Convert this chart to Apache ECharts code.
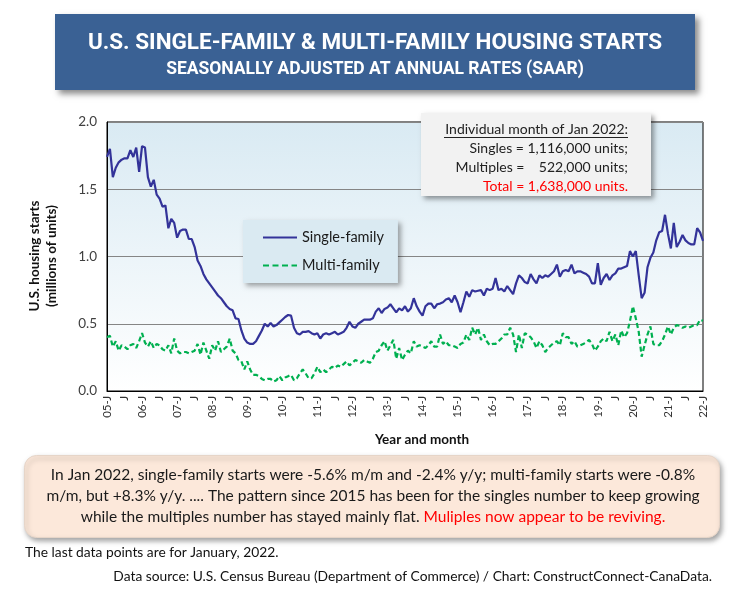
<!DOCTYPE html>
<html>
<head>
<meta charset="utf-8">
<script src="https://cdn.jsdelivr.net/npm/echarts@6/dist/echarts.min.js"></script>
<style>
html,body{margin:0;padding:0;background:#fff;}
#chart{width:742px;height:598px;}
</style>
</head>
<body>
<div id="chart"></div>
<script>
// ---------- DATA ----------
var startYear = 2005;
var monthLetters = ['J','F','M','A','M','J','J','A','S','O','N','D'];

// Single-family starts, SAAR, millions (Jan 2005 .. Jan 2022)
var singleFamily = [
  1.74, 1.80, 1.59, 1.66, 1.70, 1.72, 1.73, 1.73, 1.79, 1.74, 1.81, 1.63,
  1.82, 1.81, 1.59, 1.52, 1.57, 1.46, 1.43, 1.37, 1.38, 1.21, 1.28, 1.25,
  1.14, 1.19, 1.20, 1.20, 1.13, 1.13, 1.07, 0.97, 0.93, 0.87, 0.83, 0.80,
  0.77, 0.74, 0.71, 0.69, 0.66, 0.63, 0.61, 0.60, 0.54, 0.535, 0.45, 0.39,
  0.36, 0.35, 0.35, 0.37, 0.41, 0.45, 0.50, 0.48, 0.505, 0.48, 0.49, 0.51,
  0.53, 0.55, 0.565, 0.56, 0.47, 0.43, 0.42, 0.44, 0.44, 0.445, 0.43, 0.42,
  0.43, 0.39, 0.42, 0.43, 0.42, 0.43, 0.44, 0.42, 0.43, 0.44, 0.47, 0.515,
  0.48, 0.47, 0.50, 0.515, 0.53, 0.53, 0.53, 0.54, 0.59, 0.615, 0.58, 0.61,
  0.62, 0.645, 0.615, 0.585, 0.615, 0.60, 0.63, 0.59, 0.615, 0.69, 0.63, 0.59,
  0.56, 0.63, 0.65, 0.65, 0.615, 0.645, 0.65, 0.66, 0.68, 0.69, 0.66, 0.71,
  0.66, 0.585, 0.66, 0.74, 0.70, 0.75, 0.74, 0.745, 0.75, 0.71, 0.76, 0.75,
  0.76, 0.84, 0.75, 0.76, 0.74, 0.78, 0.75, 0.72, 0.80, 0.86, 0.84, 0.81,
  0.80, 0.87, 0.83, 0.80, 0.86, 0.84, 0.86, 0.85, 0.87, 0.89, 0.94, 0.85,
  0.89, 0.90, 0.89, 0.94, 0.875, 0.89, 0.89, 0.88, 0.87, 0.85, 0.80, 0.80,
  0.95, 0.79, 0.84, 0.87, 0.825, 0.86, 0.875, 0.91, 0.91, 0.92, 0.93, 1.04,
  1.00, 1.04, 0.86, 0.69, 0.73, 0.92, 0.99, 1.03, 1.12, 1.18, 1.19, 1.31,
  1.17, 1.06, 1.25, 1.07, 1.11, 1.16, 1.12, 1.10, 1.09, 1.09, 1.21, 1.18,
  1.116
];

// Multi-family starts, SAAR, millions (Jan 2005 .. Jan 2022)
var multiFamily = [
  0.40, 0.41, 0.33, 0.37, 0.30, 0.34, 0.33, 0.31, 0.34, 0.35, 0.32, 0.37,
  0.43, 0.36, 0.33, 0.37, 0.32, 0.35, 0.34, 0.31, 0.30, 0.34, 0.28, 0.39,
  0.30, 0.28, 0.29, 0.29, 0.28, 0.29, 0.30, 0.35, 0.27, 0.36, 0.30, 0.24,
  0.34, 0.30, 0.37, 0.29, 0.31, 0.33, 0.39, 0.30, 0.28, 0.23, 0.22, 0.16,
  0.22, 0.16, 0.12, 0.12, 0.11, 0.09, 0.08, 0.09, 0.09, 0.07, 0.08, 0.11,
  0.08, 0.10, 0.11, 0.12, 0.08, 0.095, 0.13, 0.16, 0.13, 0.095, 0.095, 0.13,
  0.18, 0.14, 0.16, 0.14, 0.16, 0.18, 0.17, 0.19, 0.18, 0.20, 0.22, 0.19,
  0.21, 0.23, 0.22, 0.21, 0.23, 0.22, 0.21, 0.24, 0.29, 0.30, 0.34, 0.37,
  0.30, 0.34, 0.38, 0.24, 0.32, 0.23, 0.27, 0.30, 0.28, 0.37, 0.33, 0.34,
  0.33, 0.32, 0.34, 0.37, 0.33, 0.33, 0.42, 0.35, 0.37, 0.34, 0.34, 0.33,
  0.32, 0.35, 0.36, 0.42, 0.38, 0.47, 0.42, 0.47, 0.38, 0.42, 0.37, 0.34,
  0.35, 0.35, 0.37, 0.39, 0.42, 0.42, 0.47, 0.42, 0.29, 0.42, 0.32, 0.43,
  0.42, 0.40, 0.37, 0.32, 0.37, 0.34, 0.29, 0.32, 0.34, 0.36, 0.37, 0.34,
  0.43, 0.40, 0.40, 0.35, 0.37, 0.33, 0.34, 0.35, 0.36, 0.38, 0.35, 0.30,
  0.33, 0.37, 0.39, 0.37, 0.44, 0.37, 0.42, 0.34, 0.45, 0.40, 0.43, 0.52,
  0.63, 0.54, 0.44, 0.255, 0.34, 0.42, 0.48, 0.35, 0.34, 0.34, 0.37, 0.42,
  0.48, 0.42, 0.47, 0.49, 0.485, 0.47, 0.48, 0.47, 0.48, 0.49, 0.49, 0.53,
  0.522
];

var yTicks = [0.0, 0.5, 1.0, 1.5, 2.0];

// category labels: "05-J" for January, "J" for July
var categories = [];
for (var i = 0; i < singleFamily.length; i++) {
  var yr = startYear + Math.floor(i / 12);
  var mo = i % 12;
  categories.push(mo === 0 ? String(yr).slice(2) + '-' + monthLetters[mo] : monthLetters[mo]);
}

// ---------- CHART ----------
var bodyFont = 'Lato, "Open Sans", sans-serif';
var chart = echarts.init(document.getElementById('chart'), null, {renderer: 'canvas'});

var option = {
  backgroundColor: '#ffffff',
  animation: false,
  grid: {
    left: 107, right: 39, top: 122, bottom: 207,
    show: true,
    borderColor: '#000000', borderWidth: 1,
    backgroundColor: {
      type: 'linear', x: 0, y: 0, x2: 0, y2: 1,
      colorStops: [{offset: 0, color: '#D9EAF3'}, {offset: 1, color: '#FFFFFF'}]
    }
  },
  legend: {
    orient: 'vertical',
    left: 243, top: 220,
    padding: [10, 14, 10, 20],
    itemGap: 13,
    itemWidth: 34, itemHeight: 12,
    backgroundColor: '#DAEAF2',
    shadowColor: 'rgba(0,0,0,0.35)', shadowBlur: 5, shadowOffsetX: 3, shadowOffsetY: 3,
    textStyle: {fontFamily: bodyFont, fontSize: 14.5, color: '#1a1a1a'},
    data: [
      {name: 'Single-family', icon: 'path://M0,0 L34,0 L34,2.2 L0,2.2 Z'},
      {name: 'Multi-family', icon: 'path://M0,0 L6,0 L6,2.2 L0,2.2 Z M9.5,0 L15.5,0 L15.5,2.2 L9.5,2.2 Z M19,0 L25,0 L25,2.2 L19,2.2 Z M28.5,0 L34,0 L34,2.2 L28.5,2.2 Z'}
    ]
  },
  xAxis: {
    type: 'category',
    boundaryGap: false,
    data: categories,
    axisLine: {show: true, lineStyle: {color: '#000', width: 1}},
    axisTick: {show: false},
    axisLabel: {
      rotate: 90, margin: 5, fontFamily: bodyFont, fontSize: 11.5, color: '#333',
      interval: function (idx) { return idx % 6 === 0; }
    },
    splitLine: {show: false}
  },
  yAxis: {
    type: 'value',
    min: 0, max: 2, interval: 0.5,
    axisLine: {show: true, lineStyle: {color: '#000'}},
    axisTick: {show: false},
    axisLabel: {
      margin: 10, fontFamily: bodyFont, fontSize: 13.5, color: '#404040',
      formatter: function (v) { return v.toFixed(1); }
    },
    splitLine: {show: true, lineStyle: {color: '#858585', width: 1}}
  },
  series: [
    {
      name: 'Single-family', type: 'line', data: singleFamily,
      symbol: 'none', z: 3,
      lineStyle: {color: '#333399', width: 2.2},
      itemStyle: {color: '#333399'}
    },
    {
      name: 'Multi-family', type: 'line', data: multiFamily,
      symbol: 'none', z: 2,
      lineStyle: {color: '#00B050', width: 2.2, type: [5, 3]},
      itemStyle: {color: '#00B050'}
    }
  ],
  graphic: [
    // title banner
    {type: 'rect', left: 55, top: 14, z: 10,
      shape: {width: 640, height: 76},
      style: {fill: '#3A6194', shadowColor: 'rgba(0,0,0,0.45)', shadowBlur: 6, shadowOffsetX: 4, shadowOffsetY: 4}},
    {type: 'text', x: 375, y: 43, z: 11,
      style: {text: 'U.S. SINGLE-FAMILY & MULTI-FAMILY HOUSING STARTS', fill: '#fff',
        font: 'bold 22.5px Roboto, sans-serif', textAlign: 'center', textVerticalAlign: 'middle'}},
    {type: 'text', x: 375, y: 70, z: 11,
      style: {text: 'SEASONALLY ADJUSTED AT ANNUAL RATES (SAAR)', fill: '#fff',
        font: 'bold 17.5px Roboto, sans-serif', textAlign: 'center', textVerticalAlign: 'middle'}},
    // y axis title
    {type: 'text', x: 43, y: 256, rotation: Math.PI / 2, z: 11,
      style: {text: 'U.S. housing starts\n(millions of units)', fill: '#111',
        font: 'bold 13.5px ' + bodyFont, textAlign: 'center', textVerticalAlign: 'middle', lineHeight: 17}},
    // x axis title
    {type: 'text', x: 422, y: 440, z: 11,
      style: {text: 'Year and month', fill: '#111',
        font: 'bold 13.5px ' + bodyFont, textAlign: 'center', textVerticalAlign: 'middle'}},
    // annotation box
    {type: 'rect', left: 421, top: 113, z: 20,
      shape: {width: 230, height: 83},
      style: {fill: '#F2F2F2', shadowColor: 'rgba(0,0,0,0.4)', shadowBlur: 5, shadowOffsetX: 3, shadowOffsetY: 3}},
    {type: 'text', x: 628, y: 129, z: 21,
      style: {text: 'Individual month of Jan 2022:', fill: '#222', font: '14px ' + bodyFont,
        textAlign: 'right', textVerticalAlign: 'middle'}},
    {type: 'line', z: 21, shape: {x1: 444, y1: 137.5, x2: 628, y2: 137.5},
      style: {stroke: '#222', lineWidth: 1}},
    {type: 'text', x: 628, y: 148, z: 21,
      style: {text: 'Singles = 1,116,000 units;', fill: '#222', font: '14px ' + bodyFont,
        textAlign: 'right', textVerticalAlign: 'middle'}},
    {type: 'text', x: 628, y: 167, z: 21,
      style: {text: 'Multiples =    522,000 units;', fill: '#222', font: '14px ' + bodyFont,
        textAlign: 'right', textVerticalAlign: 'middle'}},
    {type: 'text', x: 628, y: 186, z: 21,
      style: {text: 'Total = 1,638,000 units.', fill: '#FF0000', font: '14px ' + bodyFont,
        textAlign: 'right', textVerticalAlign: 'middle'}},
    // bottom commentary box
    {type: 'rect', left: 24, top: 455, z: 20,
      shape: {width: 695, height: 82, r: 12},
      style: {fill: '#FCE8DA', stroke: '#E6D5C8', lineWidth: 1,
        shadowColor: 'rgba(0,0,0,0.35)', shadowBlur: 5, shadowOffsetX: 2, shadowOffsetY: 3}},
    {type: 'text', x: 373, y: 475, z: 21,
      style: {text: 'In Jan 2022, single-family starts were -5.6% m/m and -2.4% y/y; multi-family starts were -0.8%',
        fill: '#1a1a1a', font: '15.5px ' + bodyFont, textAlign: 'center', textVerticalAlign: 'middle'}},
    {type: 'text', x: 373, y: 496, z: 21,
      style: {text: 'm/m, but +8.3% y/y. .... The pattern since 2015 has been for the singles number to keep growing',
        fill: '#1a1a1a', font: '15.5px ' + bodyFont, textAlign: 'center', textVerticalAlign: 'middle'}},
    {type: 'text', x: 373, y: 517, z: 21,
      style: {
        rich: {
          k: {fill: '#1a1a1a', font: '15.5px ' + bodyFont},
          r: {fill: '#FF0000', font: '15.5px ' + bodyFont}
        },
        text: '{k|while the multiples number has stayed mainly flat. }{r|Muliples now appear to be reviving.}',
        textAlign: 'center', textVerticalAlign: 'middle'}},
    // footers
    {type: 'text', x: 25, y: 553, z: 21,
      style: {text: 'The last data points are for January, 2022.', fill: '#111', font: '13.8px ' + bodyFont,
        textAlign: 'left', textVerticalAlign: 'middle'}},
    {type: 'text', x: 712, y: 577, z: 21,
      style: {text: 'Data source: U.S. Census Bureau (Department of Commerce) / Chart: ConstructConnect-CanaData.',
        fill: '#111', font: '13.8px ' + bodyFont, textAlign: 'right', textVerticalAlign: 'middle'}}
  ]
};
chart.setOption(option);
</script>
</body>
</html>
